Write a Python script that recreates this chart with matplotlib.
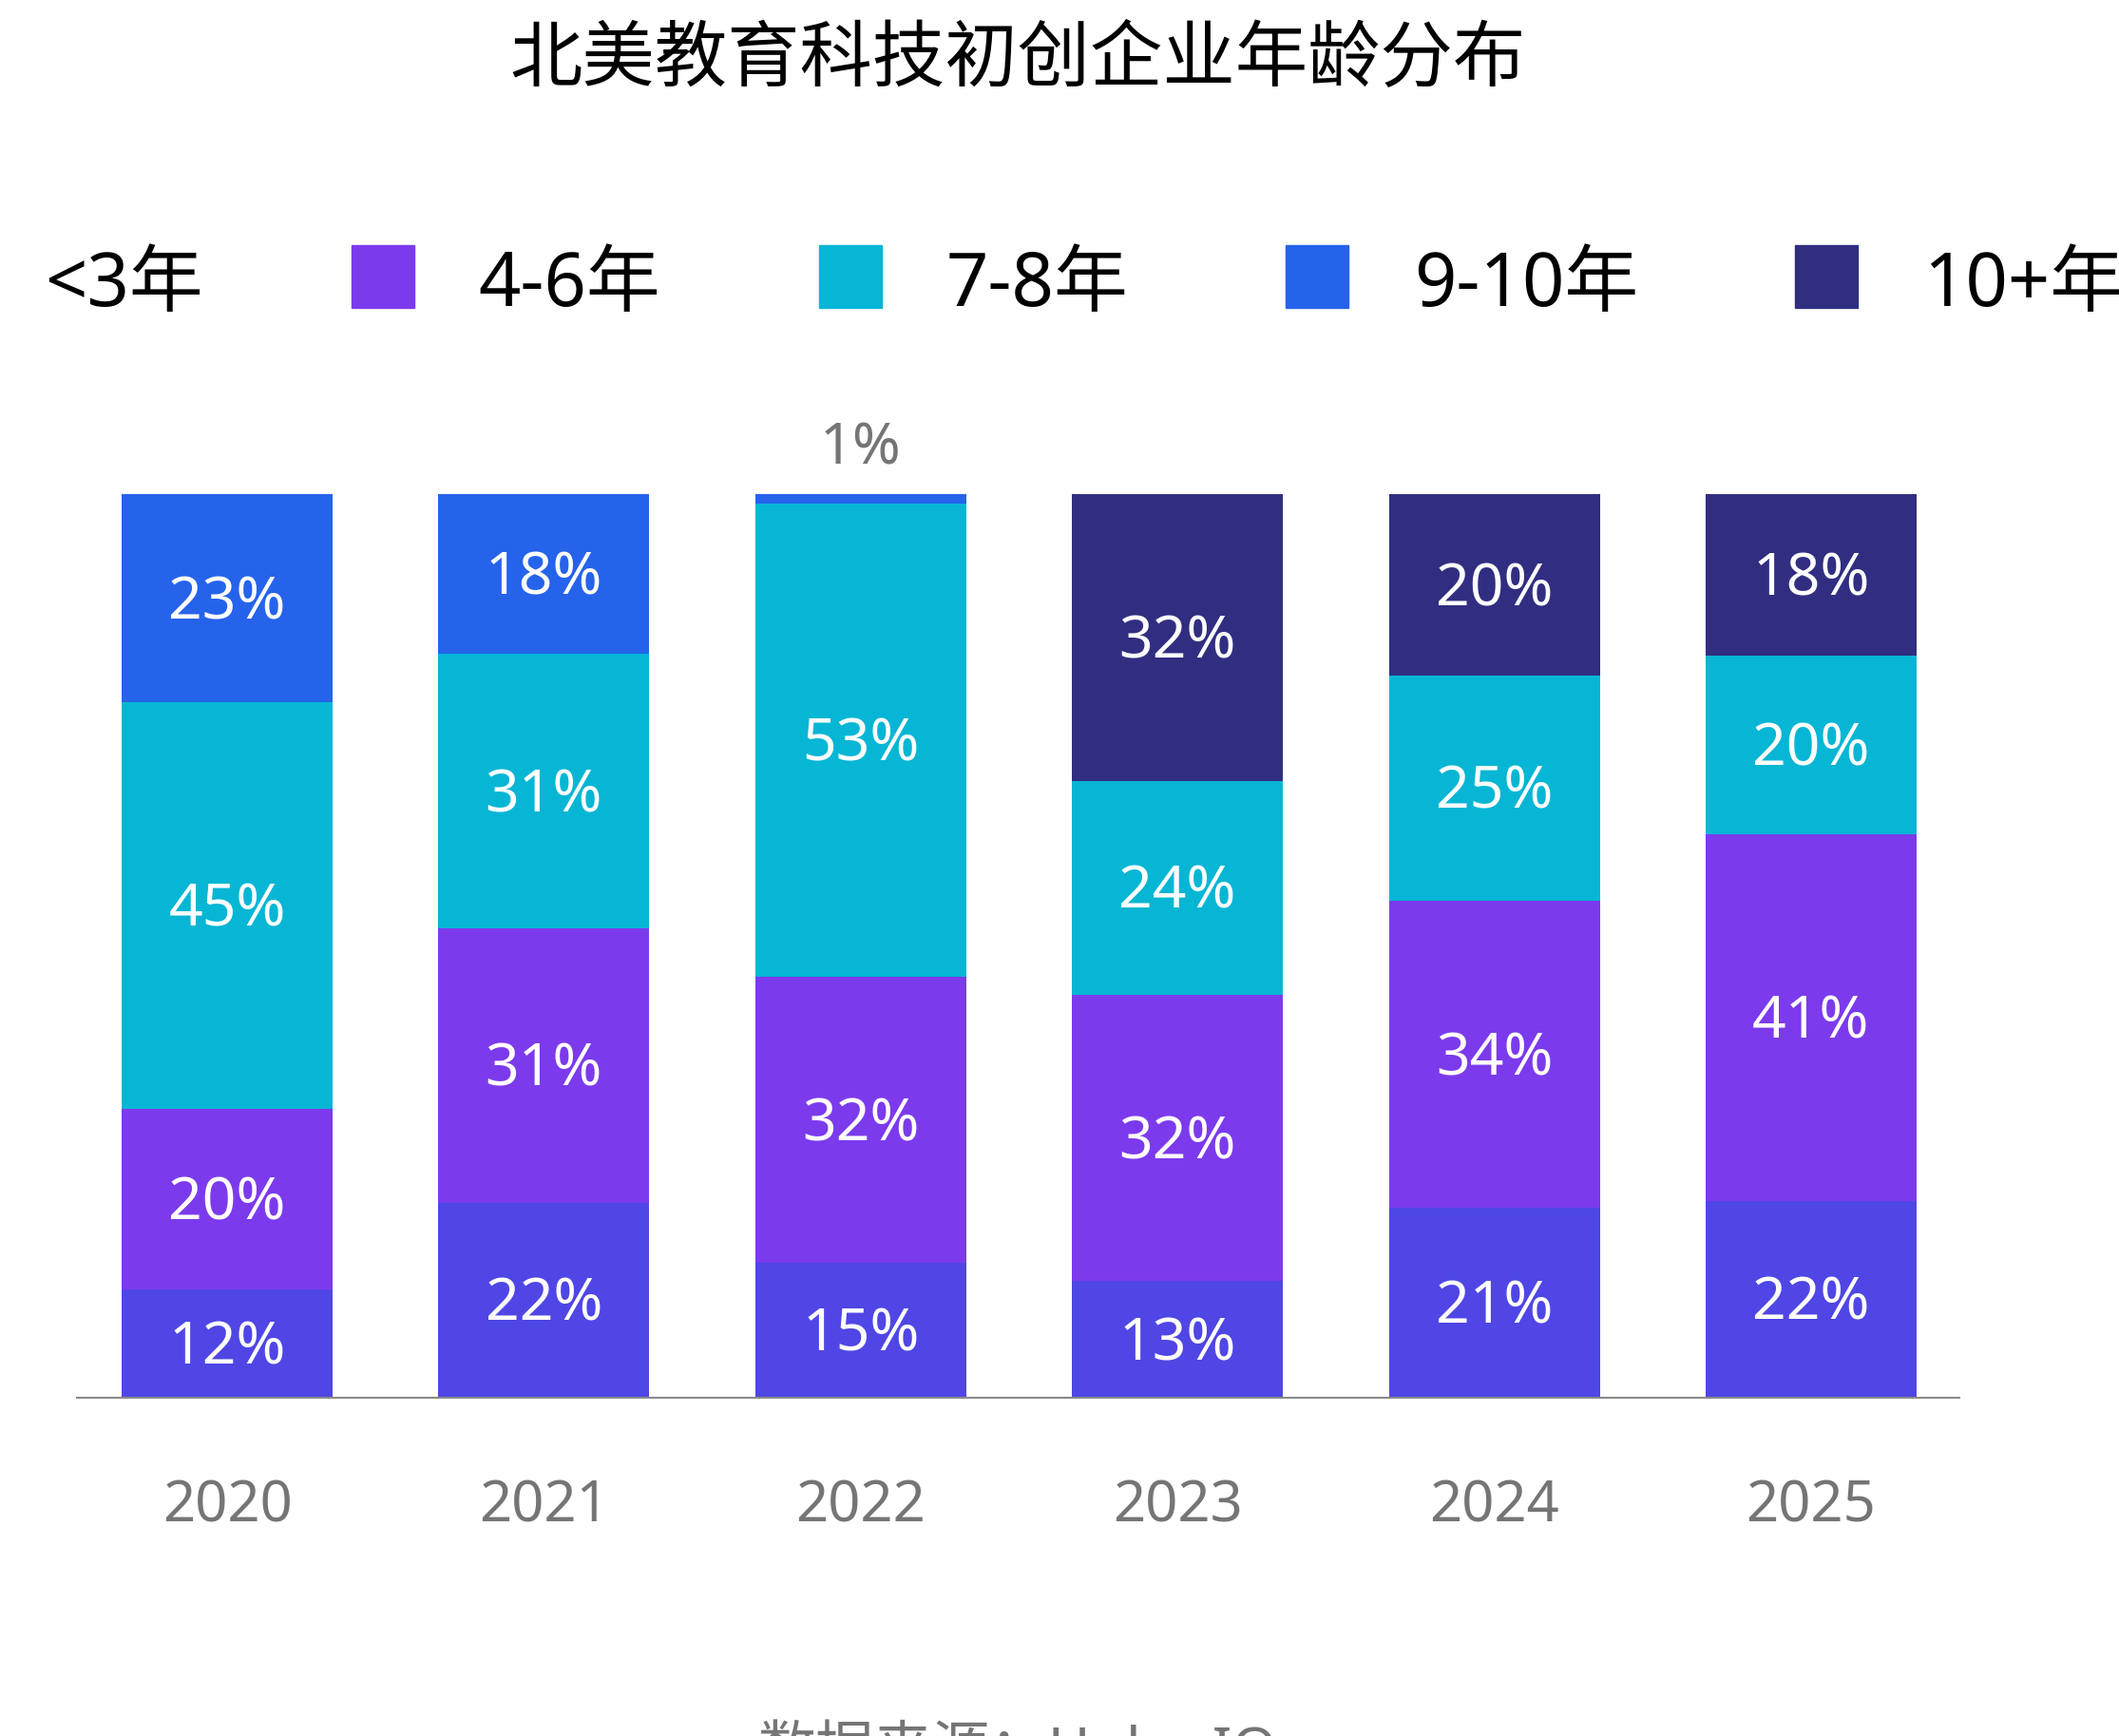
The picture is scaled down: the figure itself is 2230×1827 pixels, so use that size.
import matplotlib
matplotlib.use("Agg")
import matplotlib.pyplot as plt
import numpy as np
from matplotlib.patches import Rectangle

plt.rcParams['font.family'] = ['Noto Sans', 'Noto Sans CJK SC', 'DejaVu Sans']

title = "北美教育科技初创企业年龄分布"
source = "数据来源：HolonIQ"
years = ["2020", "2021", "2022", "2023", "2024", "2025"]
groups = ["<3年", "4-6年", "7-8年", "9-10年", "10+年"]
colors = ["#4F46E5", "#7C3AED", "#06B6D4", "#2563EB", "#312E81"]

# percent labels as shown, bottom to top
lt3 = [12, 22, 15, 13, 21, 22]
y4_6 = [20, 31, 32, 32, 34, 41]
y7_8 = [45, 31, 53, 24, 25, 20]
y9_10 = [23, 18, 1, 0, 0, 0]
y10p = [0, 0, 0, 32, 20, 18]

series = np.array([lt3, y4_6, y7_8, y9_10, y10p], dtype=float)
totals = series.sum(axis=0)
heights = series / totals * 100  # bars fill to 100%

W, H = 2230, 1827
fig = plt.figure(figsize=(W / 100, H / 100), dpi=100)
ax = fig.add_axes([81 / W, (H - 1470.6) / H, (2062 - 81) / W, (1470.6 - 520.5) / H])

x = np.arange(len(years))
bottom = np.zeros(len(years))
for i, g in enumerate(groups):
    ax.bar(x, heights[i], 0.666, bottom=bottom, color=colors[i], linewidth=0)
    for j in range(len(years)):
        v = series[i][j]
        if v == 0:
            continue
        if v < 3:
            ax.annotate(f"{int(v)}%", (x[j], bottom[j] + heights[i][j]),
                        xytext=(0, 34), textcoords='offset points',
                        ha='center', va='center', fontsize=44, color='#757575')
        else:
            ax.annotate(f"{int(v)}%", (x[j], bottom[j] + heights[i][j] / 2),
                        xytext=(0, -4), textcoords='offset points',
                        ha='center', va='center', fontsize=45, color='white')
    bottom += heights[i]

ax.set_xlim(-0.474, 5.468)
ax.set_ylim(0, 100)
for s in ['top', 'right', 'left']:
    ax.spines[s].set_visible(False)
ax.spines['bottom'].set_color('#8a8a8a')
ax.spines['bottom'].set_linewidth(1.5)
ax.set_yticks([])
ax.set_xticks(x)
ax.set_xticklabels(years, fontsize=43, color='#757575')
ax.tick_params(axis='x', length=0, pad=61)

fig.text(1071 / W, 1 - 65 / H, title, ha='center', va='center', fontsize=55, color='black')

# legend, overflowing both edges like the original
text_x = [47, 503, 996, 1488, 2024]
marker_x = [370 - 492, 370, 862, 1353, 1889]
mark_y = 291
text_y = 301
for i, g in enumerate(groups):
    fig.patches.append(Rectangle((marker_x[i] / W, 1 - (mark_y + 33) / H), 66 / W, 66 / H,
                                 transform=fig.transFigure, color=colors[i]))
    fig.text(text_x[i] / W, 1 - text_y / H, g,
             ha='left', va='center', fontsize=56, color='black')

fig.text(1071 / W, 1 - 1814 / H, source, ha='center', va='top', fontsize=44, color='#757575')

fig.savefig("out.png", dpi=100)
